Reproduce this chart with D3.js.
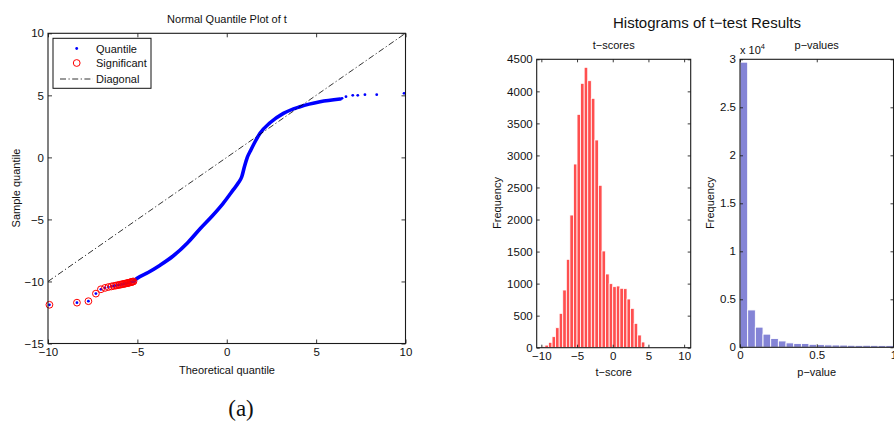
<!DOCTYPE html>
<html>
<head>
<meta charset="utf-8">
<script src="https://cdn.jsdelivr.net/npm/d3@7"></script>
<style>
  body { margin: 0; background: #fff; }
  svg { font-family: "Liberation Sans", Arial, sans-serif; }
  .tick text { font-size: 11.5px; fill: #111; }
  .lbl { font-size: 11px; fill: #111; }
</style>
</head>
<body>
<svg id="chart" width="894" height="422"></svg>
<script>
// ---- data ----

// dense part of the normal quantile plot (theoretical, sample)
var qqCurveX = [-5.22, -5.03, -4.4, -3.73, -3.0, -2.2, -1.49, -0.8, -0.2, 0.37, 0.65, 0.84, 1.0, 1.15, 1.35, 1.6, 1.86, 2.42, 3.17, 4.10, 5.22, 6.34];
var qqCurveY = [-10.0, -9.76, -9.28, -8.69, -7.95, -6.9, -5.75, -4.7, -3.7, -2.6, -2.05, -1.56, -0.7, 0.0, 0.6, 1.3, 1.94, 2.79, 3.55, 4.08, 4.48, 4.70];

// sparse upper tail quantile points
var qqTailX = [6.45, 6.67, 7.05, 7.33, 7.73, 8.39, 9.92];
var qqTailY = [4.76, 4.89, 5.0, 5.0, 5.05, 5.05, 5.16];

// significant points (lower tail), circled in red
var sigX = [-9.92, -8.38, -7.74, -7.32, -7.04, -6.81, -6.62, -6.45, -6.32, -6.2, -6.1, -6.0, -5.92, -5.84, -5.77, -5.7, -5.64, -5.58, -5.52, -5.47, -5.42, -5.37, -5.32, -5.27, -5.22];
var sigY = [-11.88, -11.71, -11.59, -10.98, -10.63, -10.52, -10.45, -10.4, -10.36, -10.33, -10.3, -10.27, -10.25, -10.22, -10.2, -10.18, -10.16, -10.14, -10.12, -10.1, -10.08, -10.06, -10.04, -10.02, -10.0];

var qqXTicks = [-10, -5, 0, 5, 10];
var qqYTicks = [-15, -10, -5, 0, 5, 10];

// t-score histogram: bin centres and counts
var tCenters = [-9.75, -9.25, -8.75, -8.25, -7.75, -7.25, -6.75, -6.25, -5.75, -5.25,
                -4.75, -4.25, -3.75, -3.25, -2.75, -2.25, -1.75, -1.25, -0.75, -0.25,
                0.25, 0.75, 1.25, 1.75, 2.25, 2.75, 3.25, 3.75, 4.25, 4.75,
                5.25, 5.75, 6.25, 6.75, 7.25, 7.75, 8.25, 8.75, 9.25, 9.75];
var tCounts = [20, 40, 84, 172, 312, 536, 900, 1379, 2070, 2866,
               3641, 4125, 4375, 4166, 3891, 3241, 2534, 1509, 1150, 999,
               952, 963, 927, 921, 760, 614, 380, 198, 89, 15,
               0, 0, 0, 0, 0, 0, 0, 0, 0, 10];
var tXTicks = [-10, -5, 0, 5, 10];
var tYTicks = [0, 500, 1000, 1500, 2000, 2500, 3000, 3500, 4000, 4500];

// p-value histogram: bin centres and counts
var pCenters = [0.025, 0.075, 0.125, 0.175, 0.225, 0.275, 0.325, 0.375, 0.425, 0.475,
                0.525, 0.575, 0.625, 0.675, 0.725, 0.775, 0.825, 0.875, 0.925, 0.975];
var pCounts = [29700, 3890, 2100, 1370, 920, 660, 460, 400, 390, 310,
               280, 250, 240, 230, 210, 200, 210, 200, 190, 190];
var pXTicks = [0, 0.5, 1];
var pYTicks = [0, 5000, 10000, 15000, 20000, 25000, 30000];

var svg = d3.select("#chart");
var fmt = function(d) { return d < 0 ? "\u2212" + Math.abs(d) : String(d); };

// draws a MATLAB-like boxed axes with inward ticks on all four sides
function drawAxes(g, x, y, xt, yt, xf, yf, tick) {
    var x0 = x.range()[0], x1 = x.range()[1];
    var y0 = y.range()[0], y1 = y.range()[1];

    g.append("g").attr("transform", "translate(0," + y0 + ")")
        .call(d3.axisBottom(x).tickValues(xt).tickFormat(xf).tickSizeInner(-tick).tickSizeOuter(0).tickPadding(4));
    g.append("g").attr("transform", "translate(" + x0 + ",0)")
        .call(d3.axisLeft(y).tickValues(yt).tickFormat(yf).tickSizeInner(-tick).tickSizeOuter(0).tickPadding(4));
    g.append("g").attr("transform", "translate(0," + y1 + ")")
        .call(d3.axisTop(x).tickValues(xt).tickFormat("").tickSizeInner(-tick).tickSizeOuter(0));
    g.append("g").attr("transform", "translate(" + x1 + ",0)")
        .call(d3.axisRight(y).tickValues(yt).tickFormat("").tickSizeInner(-tick).tickSizeOuter(0));

    g.selectAll(".domain").remove();
    g.selectAll(".tick line").attr("stroke", "#222").attr("stroke-width", 0.9);
    g.selectAll(".tick text").attr("font-family", null);

    g.append("rect")
        .attr("x", x0).attr("y", y1)
        .attr("width", x1 - x0).attr("height", y0 - y1)
        .attr("fill", "none").attr("stroke", "#1a1a1a").attr("stroke-width", 1.1);
}

// ---------------- (a) normal quantile plot ----------------
var qx = d3.scaleLinear().domain([-10, 10]).range([48, 405.5]);
var qy = d3.scaleLinear().domain([-15, 10]).range([343.5, 33.3]);
var ga = svg.append("g");

var curve = qqCurveX.map(function(d, i) { return [d, qqCurveY[i]]; });
var line = d3.line()
    .x(function(d) { return qx(d[0]); })
    .y(function(d) { return qy(d[1]); })
    .curve(d3.curveMonotoneX);

ga.append("path")
    .attr("d", line(curve))
    .attr("fill", "none")
    .attr("stroke", "#0000ff")
    .attr("stroke-width", 3.6)
    .attr("stroke-linecap", "round");

var dots = qqTailX.map(function(d, i) { return [d, qqTailY[i]]; })
    .concat(sigX.map(function(d, i) { return [d, sigY[i]]; }));
ga.selectAll("circle.q").data(dots).enter().append("circle")
    .attr("class", "q")
    .attr("cx", function(d) { return qx(d[0]); })
    .attr("cy", function(d) { return qy(d[1]); })
    .attr("r", 1.4)
    .attr("fill", "#0000ff");

ga.selectAll("circle.s").data(sigX).enter().append("circle")
    .attr("class", "s")
    .attr("cx", function(d) { return qx(d); })
    .attr("cy", function(d, i) { return qy(sigY[i]); })
    .attr("r", 3.4)
    .attr("fill", "none")
    .attr("stroke", "#ff0000")
    .attr("stroke-width", 1);

// diagonal
ga.append("line")
    .attr("x1", qx(-10)).attr("y1", qy(-10))
    .attr("x2", qx(10)).attr("y2", qy(10))
    .attr("stroke", "#000").attr("stroke-width", 0.8)
    .attr("stroke-dasharray", "6,2.5,1.2,2.5");

drawAxes(ga, qx, qy, qqXTicks, qqYTicks, fmt, fmt, 4);

ga.append("text").attr("class", "lbl").attr("x", 227).attr("y", 23)
    .attr("text-anchor", "middle").text("Normal Quantile Plot of t");
ga.append("text").attr("class", "lbl").attr("x", 227).attr("y", 374)
    .attr("text-anchor", "middle").text("Theoretical quantile");
ga.append("text").attr("class", "lbl")
    .attr("transform", "translate(20,188) rotate(-90)")
    .attr("text-anchor", "middle").text("Sample quantile");

// legend
var lg = ga.append("g");
lg.append("rect").attr("x", 53).attr("y", 38.3).attr("width", 98).attr("height", 50)
    .attr("fill", "#fff").attr("stroke", "#111").attr("stroke-width", 1);
lg.append("circle").attr("cx", 76.7).attr("cy", 48.5).attr("r", 1.4).attr("fill", "#0000ff");
lg.append("circle").attr("cx", 76.7).attr("cy", 63).attr("r", 3.4)
    .attr("fill", "none").attr("stroke", "#ff0000").attr("stroke-width", 1);
lg.append("line").attr("x1", 60).attr("x2", 93).attr("y1", 79).attr("y2", 79)
    .attr("stroke", "#000").attr("stroke-width", 0.8).attr("stroke-dasharray", "6,2.5,1.2,2.5");
["Quantile", "Significant", "Diagonal"].forEach(function(s, i) {
    lg.append("text").attr("class", "lbl").attr("x", 96).attr("y", [52.5, 67, 83][i]).text(s);
});

svg.append("text").attr("x", 241).attr("y", 416).attr("text-anchor", "middle")
    .attr("font-family", "'Liberation Serif', 'DejaVu Serif', serif")
    .attr("font-size", 23).attr("fill", "#111").text("(a)");

// ---------------- (b) histograms ----------------
svg.append("text").attr("x", 707).attr("y", 28).attr("text-anchor", "middle")
    .attr("font-size", 15).attr("fill", "#111").text("Histograms of t\u2212test Results");

// t-scores
var tx = d3.scaleLinear().domain([-10.65, 10.92]).range([536.7, 690.7]);
var ty = d3.scaleLinear().domain([0, 4500]).range([347.7, 59.3]);
var gb = svg.append("g");
gb.selectAll("rect.bar").data(tCounts).enter().append("rect")
    .attr("class", "bar")
    .attr("x", function(d, i) { return tx(tCenters[i] - 0.25); })
    .attr("width", function(d, i) { return tx(tCenters[i] + 0.25) - tx(tCenters[i] - 0.25); })
    .attr("y", function(d) { return ty(d); })
    .attr("height", function(d) { return ty(0) - ty(d); })
    .attr("fill", "#ff4f4f")
    .attr("stroke", "#fff").attr("stroke-width", 0.8);
drawAxes(gb, tx, ty, tXTicks, tYTicks, fmt, d3.format("d"), 3);
gb.append("text").attr("class", "lbl").attr("x", 613.7).attr("y", 49)
    .attr("text-anchor", "middle").text("t\u2212scores");
gb.append("text").attr("class", "lbl").attr("x", 613.7).attr("y", 376)
    .attr("text-anchor", "middle").text("t\u2212score");
gb.append("text").attr("class", "lbl")
    .attr("transform", "translate(501,203) rotate(-90)")
    .attr("text-anchor", "middle").text("Frequency");

// p-values
var px = d3.scaleLinear().domain([0, 1]).range([740, 893.5]);
var py = d3.scaleLinear().domain([0, 30000]).range([347.3, 59.3]);
var gc = svg.append("g");
gc.selectAll("rect.bar").data(pCounts).enter().append("rect")
    .attr("class", "bar")
    .attr("x", function(d, i) { return px(pCenters[i] - 0.025); })
    .attr("width", function(d, i) { return px(pCenters[i] + 0.025) - px(pCenters[i] - 0.025); })
    .attr("y", function(d) { return py(d); })
    .attr("height", function(d) { return py(0) - py(d); })
    .attr("fill", "#8484d6")
    .attr("stroke", "#fff").attr("stroke-width", 0.9);
drawAxes(gc, px, py, pXTicks, pYTicks, d3.format(""), function(d) { return String(d / 10000); }, 3);
gc.append("text").attr("class", "lbl").attr("x", 816.7).attr("y", 49)
    .attr("text-anchor", "middle").text("p\u2212values");
gc.append("text").attr("class", "lbl").attr("x", 816.7).attr("y", 376)
    .attr("text-anchor", "middle").text("p\u2212value");
gc.append("text").attr("class", "lbl")
    .attr("transform", "translate(714,203) rotate(-90)")
    .attr("text-anchor", "middle").text("Frequency");
var ex = gc.append("text").attr("class", "lbl").attr("x", 740).attr("y", 54);
ex.append("tspan").text("x 10");
ex.append("tspan").attr("font-size", 7.5).attr("dy", -5).text("4");
</script>
</body>
</html>
